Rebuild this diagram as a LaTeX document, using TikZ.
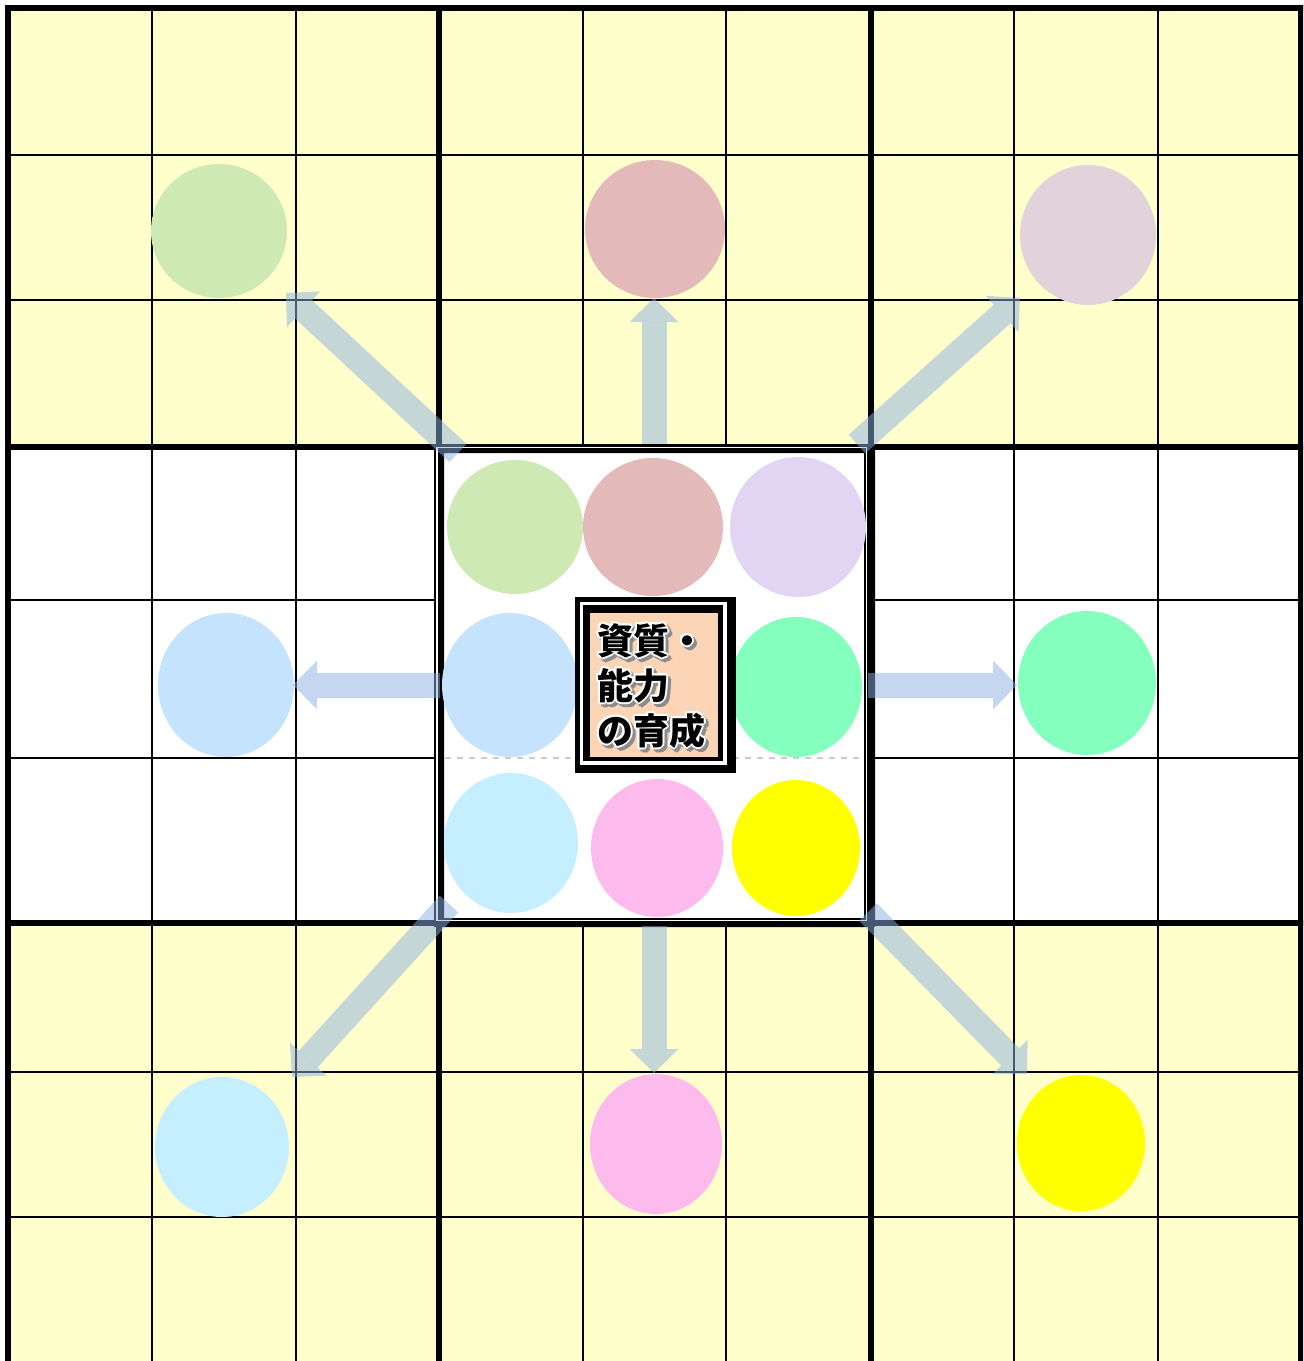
\documentclass[tikz,border=0pt]{standalone}
\usepackage{fontspec}
\newfontfamily\mcjp{Noto Sans CJK JP}
\usetikzlibrary{arrows.meta,shapes.geometric}
\definecolor{mcYellow}{RGB}{255,255,204}
\definecolor{mcPeach}{RGB}{251,213,181}
\definecolor{mcArrow}{RGB}{140,175,226}
\definecolor{mcGreen}{RGB}{207,233,180}
\definecolor{mcRed}{RGB}{228,185,185}
\definecolor{mcPurple}{RGB}{226,212,243}
\definecolor{mcPurpleO}{RGB}{226,210,220}
\definecolor{mcBlue}{RGB}{197,227,252}
\definecolor{mcMint}{RGB}{133,255,189}
\definecolor{mcCyan}{RGB}{197,238,254}
\definecolor{mcPink}{RGB}{253,186,236}
\definecolor{mcLemon}{RGB}{255,255,0}
\tikzset{
  mcthin/.style={draw=black, line width=1pt},
  mcthick/.style={draw=black, line width=3pt, line cap=rect},
  mcdot/.style={ellipse, inner sep=0pt, draw=none},
  mcarrow/.style={draw=mcArrow, opacity=0.5, line width=12.5pt,
                  -{Triangle[length=12pt, width=24.5pt, line width=0pt]}},
  mctext/.style={font=\mcjp\bfseries\fontsize{18pt}{22.5pt}\selectfont,
                 align=left, inner sep=0pt, anchor=north west},
}
\newcommand{\mcLabel}{資質・\\能力\\の育成}

\begin{document}
\begin{tikzpicture}[x=0.5pt, y=-0.5pt]
  \useasboundingbox (0,0) rectangle (1303,1361);
  \clip (0,0) rectangle (1303,1361);
  % block backgrounds
  \fill[mcYellow] (8,8) rectangle (1301,447);
  \fill[mcYellow] (8,923) rectangle (1301,1364);
  % cell lines
  \foreach \x in {152,296,583,726,1014,1158}
    \draw[mcthin] (\x,8) -- (\x,447) (\x,923) -- (\x,1364);
  \foreach \x in {152,296,1014,1158}
    \draw[mcthin] (\x,447) -- (\x,923);
  \foreach \y in {155,300,1072,1217}
    \draw[mcthin] (8,\y) -- (1301,\y);
  \foreach \y in {600,758}
    \draw[mcthin] (8,\y) -- (439,\y) (871,\y) -- (1301,\y);
  \draw[black!20, dashed, line width=0.6pt] (445,758) -- (865,758);
  % block lines
  \foreach \x in {8,439,871,1301}
    \draw[mcthick] (\x,8) -- (\x,1364);
  \foreach \y in {8,447,923,1364}
    \draw[mcthick] (8,\y) -- (1301,\y);
  % centre block frame
  \fill[black, even odd rule] (434,445) rectangle (875,927) (444,453) rectangle (864,918);
  \draw[white, line width=0.8pt] (437,447.5) rectangle (866.5,920.5);
  % centre block
  \node[mcdot, fill=mcGreen,  minimum width=68pt, minimum height=67pt] (cNW) at (515,527) {};
  \node[mcdot, fill=mcRed,    minimum width=70pt, minimum height=69pt] (cN)  at (653,527) {};
  \node[mcdot, fill=mcPurple, minimum width=68pt, minimum height=70pt] (cNE) at (798,527) {};
  \node[mcdot, fill=mcBlue,   minimum width=68pt, minimum height=72pt] (cW)  at (510,685) {};
  \node[mcdot, fill=mcMint,   minimum width=66pt, minimum height=70pt] (cE)  at (796,687) {};
  \node[mcdot, fill=mcCyan,   minimum width=67pt, minimum height=70pt] (cSW) at (511,843) {};
  \node[mcdot, fill=mcPink,   minimum width=66pt, minimum height=69pt] (cS)  at (657,848) {};
  \node[mcdot, fill=mcLemon,  minimum width=64pt, minimum height=68pt] (cSE) at (796,848) {};
  % outer blocks
  \node[mcdot, fill=mcGreen,   minimum width=68pt, minimum height=67pt] (oNW) at (219,231) {};
  \node[mcdot, fill=mcRed,     minimum width=70pt, minimum height=69pt] (oN)  at (655,229) {};
  \node[mcdot, fill=mcPurpleO, minimum width=68pt, minimum height=70pt] (oNE) at (1088,235) {};
  \node[mcdot, fill=mcBlue,    minimum width=68pt, minimum height=72pt] (oW)  at (226,685) {};
  \node[mcdot, fill=mcMint,    minimum width=69pt, minimum height=72pt] (oE)  at (1087,683) {};
  \node[mcdot, fill=mcCyan,    minimum width=67pt, minimum height=70pt] (oSW) at (222,1147) {};
  \node[mcdot, fill=mcPink,    minimum width=66pt, minimum height=70pt] (oS)  at (656,1144) {};
  \node[mcdot, fill=mcLemon,   minimum width=64pt, minimum height=68pt] (oSE) at (1081,1143) {};
  % arrows
  \coordinate (aNWs) at (458,453);  \coordinate (aNWe) at (286,293);
  \coordinate (aNs)  at (654,444);  \coordinate (aNe)  at (654,298);
  \coordinate (aNEs) at (857,444);  \coordinate (aNEe) at (1020,298);
  \coordinate (aWs)  at (440,685);  \coordinate (aWe)  at (293,685);
  \coordinate (aEs)  at (868,685);  \coordinate (aEe)  at (1017,685);
  \coordinate (aSWs) at (449,904);  \coordinate (aSWe) at (292,1077);
  \coordinate (aSs)  at (654,926);  \coordinate (aSe)  at (654,1073);
  \coordinate (aSEs) at (868,912);  \coordinate (aSEe) at (1027,1074);
  \foreach \d in {NW,N,NE,W,E,SW,S,SE}
    \draw[mcarrow] (a\d s) -- (a\d e);
  % theme box
  \fill[black] (575,597) rectangle (736,773);
  \fill[white] (580,602) rectangle (727,765);
  \fill[black] (583,605) rectangle (723,761);
  \node[fill=mcPeach, inner sep=0pt, minimum width=64pt, minimum height=72pt,
        anchor=north west] (box) at (590,613) {};
  \foreach \dx/\dy [count=\i] in {2/0,-2/0,0/2,0/-2,1.5/1.5,-1.5/1.5,1.5/-1.5,-1.5/-1.5}
    \node[mctext, text=black!45] (txtS\i) at (600+\dx,626+\dy) {\mcLabel};
  \foreach \dx/\dy [count=\i] in {2/0,-2/0,0/2,0/-2,1.5/1.5,-1.5/1.5,1.5/-1.5,-1.5/-1.5}
    \node[mctext, text=white] (txtW\i) at (597+\dx,623+\dy) {\mcLabel};
  \node[mctext, text=black] (txt) at (597,623) {\mcLabel};
\end{tikzpicture}
\end{document}
